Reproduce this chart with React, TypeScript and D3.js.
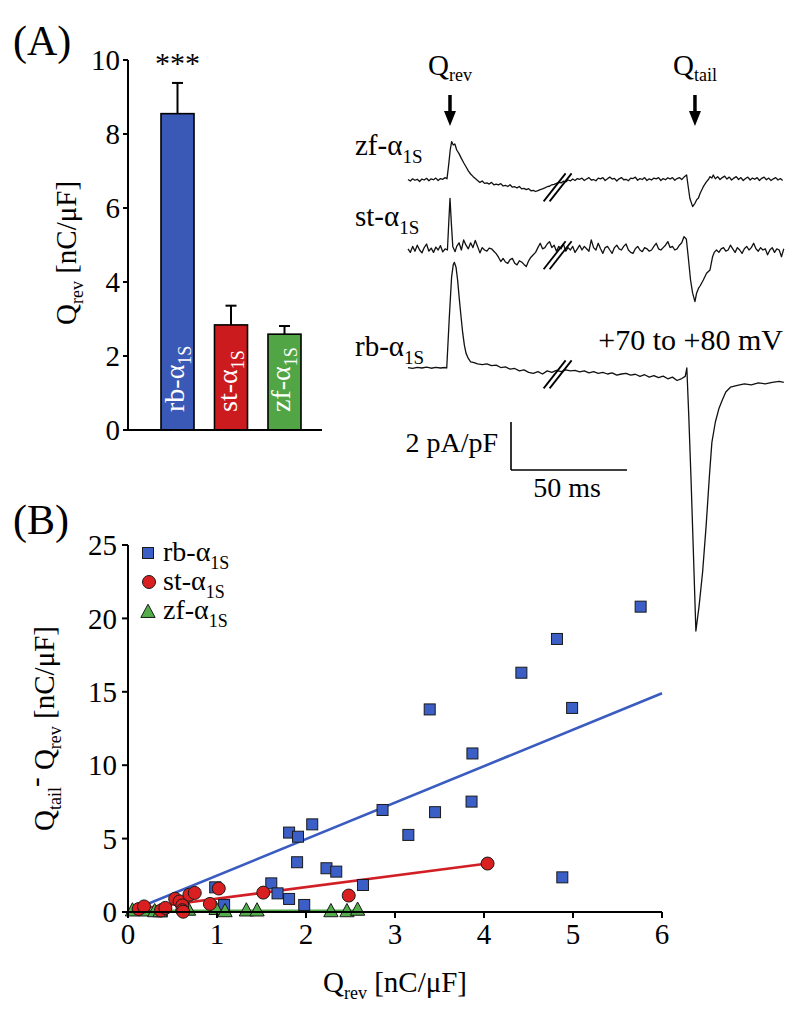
import React from 'react';
import * as d3 from 'd3';

// ---------- Panel A: bar chart ----------
const barGroups = ['rb', 'st', 'zf'];
const barMeans = [8.55, 2.84, 2.59];
const barErrors = [0.83, 0.52, 0.22];
const barColors = ['#3a58b5', '#cc1b1f', '#52a545'];
const barYTicks = [0, 2, 4, 6, 8, 10];

// ---------- Panel B: scatter ----------
const rbPoints: [number, number][] = [
  [0.38, 0.05], [0.98, 1.68], [1.08, 0.48], [1.61, 1.95], [1.68, 1.27], [1.81, 0.89],
  [1.81, 5.41], [1.91, 5.13], [1.9, 3.39], [1.98, 0.48], [2.07, 5.97], [2.23, 2.98],
  [2.34, 2.75], [2.64, 1.84], [2.86, 6.95], [3.15, 5.25], [3.39, 13.8], [3.45, 6.8],
  [3.86, 7.52], [3.87, 10.8], [4.42, 16.3], [4.82, 18.6], [4.88, 2.36], [4.99, 13.9],
  [5.76, 20.8],
];
const stPoints: [number, number][] = [
  [0.12, 0.2], [0.18, 0.38], [0.37, 0.1], [0.42, 0.28], [0.53, 0.9], [0.58, 0.72],
  [0.61, 0.45], [0.61, 0.12], [0.62, 0.02], [0.69, 1.18], [0.75, 1.3], [0.92, 0.55],
  [1.02, 1.6], [1.52, 1.32], [2.48, 1.12], [4.04, 3.3],
];
const zfPoints: [number, number][] = [
  [0.05, 0.1], [0.2, 0.1], [0.3, 0.05], [0.36, 0.05], [0.68, 0.15], [0.99, 0.2],
  [1.09, 0.05], [1.33, 0.1], [1.45, 0.1], [2.28, 0.05], [2.46, 0.05], [2.58, 0.15],
];
const rbFit: [number, number][] = [[0, 0], [6, 14.9]];
const stFit: [number, number][] = [[0.12, 0.22], [4.04, 3.3]];
const zfFit: [number, number][] = [[0.03, 0.05], [2.6, 0.05]];
const scatterXTicks = [0, 1, 2, 3, 4, 5, 6];
const scatterYTicks = [0, 5, 10, 15, 20, 25];

// ---------- Current traces: [time ms, current pA/pF] ----------
const zfTrace: [number, number][] = [
  [0, 0.02], [1, -0.04], [2, 0.05], [3, -0.01], [4, 0.03], [5, -0.06], [6, 0.04], [7, 0.0], [8, 0.07], [9, -0.03],
  [10, 0.05], [11, 0.01], [12, 0.08], [13, -0.02], [14, 0.06], [15, 0.03], [16, 0.1], [16.8, 0.05], [17.5, 0.6],
  [18.2, 1.25], [18.8, 1.6], [19.5, 1.46], [20.2, 1.5], [21, 1.25], [22, 1.1], [23, 0.9], [24, 0.72], [25, 0.55],
  [26, 0.38], [27, 0.25], [28, 0.15], [29, 0.06], [30, -0.02], [31, -0.1], [32, -0.04], [33, -0.14], [34, -0.12],
  [35, -0.17], [36, -0.1], [37, -0.2], [38, -0.17], [39, -0.2], [40, -0.15], [41, -0.25], [42, -0.22], [43, -0.27],
  [44, -0.2], [45, -0.3], [46, -0.28], [47, -0.33], [48, -0.27], [49, -0.37], [50, -0.35], [51, -0.4], [52, -0.36],
  [53, -0.45], [54, -0.43], [55, -0.48], [56, -0.44], [57, -0.4], [58, -0.37], [59, -0.33], [60, -0.28], [61, -0.26],
  [62, -0.2], [63, -0.18], [64, -0.14], [65, -0.1], [66, -0.12], [67, -0.05], [68, -0.08], [69, 0.0], [70, -0.04],
  [71, 0.04], [72, -0.02], [73, 0.06], [74, 0.03], [75, 0.08], [76, -0.02], [77, 0.04], [78, 0.1], [79, 0.0], [80, 0.02],
  [81, -0.03], [82, 0.08], [83, 0.05], [84, 0.1], [85, -0.02], [86, 0.05], [87, 0.12], [88, 0.04], [89, 0.07], [90, -0.04],
  [91, 0.05], [92, 0.1], [93, 0.01], [94, 0.03], [95, -0.03], [96, 0.08], [97, 0.06], [98, 0.12], [99, -0.01], [100, 0.06],
  [101, 0.02], [102, 0.1], [103, -0.02], [104, 0.05], [105, 0.0], [106, 0.08], [107, 0.05], [108, 0.1], [109, -0.02],
  [110, 0.06], [111, 0.01], [112, 0.09], [113, 0.04], [114, 0.1], [115, -0.01], [116, 0.06], [117, 0.1], [118, 0.02],
  [119, 0.12], [120.1, 0.21], [120.8, -0.28], [121.5, -0.76], [122.7, -1.11], [123.7, -0.97], [124.4, -0.83],
  [125.2, -0.75], [125.9, -0.56], [127.3, -0.28], [128.7, -0.07], [129.5, 0.02], [130.2, 0.14], [131, 0.08],
  [131.6, 0.21], [132.5, 0.05], [133.5, 0.14], [134.5, 0.02], [135.5, 0.1], [136.5, 0.16], [137.5, 0.04], [138.5, 0.12],
  [139.5, 0.0], [140.5, 0.08], [141.5, 0.14], [142.5, 0.02], [143.5, 0.1], [144.5, -0.02], [145.5, 0.06], [146.5, 0.12],
  [147.5, 0.0], [148.5, 0.08], [149.5, 0.03], [150.5, 0.1], [151.5, -0.02], [152.5, 0.07], [153.5, 0.12], [154.5, 0.01],
  [155.5, 0.08], [156.5, -0.02], [157.5, 0.05], [158.5, 0.1], [159.5, 0.0], [160.5, 0.06], [161.5, -0.02],
];
const stTrace: [number, number][] = [
  [0, 0.05], [1, -0.1], [2, 0.15], [3, -0.05], [4, 0.2], [5, 0.0], [6, -0.12], [7, 0.1], [8, 0.25], [9, -0.05],
  [10, 0.08], [11, -0.1], [12, 0.12], [13, 0.0], [14, 0.18], [15, -0.08], [16, 0.05], [17, 0.0], [17.6, 1.2],
  [18.1, 2.15], [18.7, 1.1], [19.3, 0.15], [20.3, -0.07], [21, 0.15], [22, 0.3], [23, 0.0], [24, 0.42], [25, 0.2],
  [26, 0.05], [27, 0.3], [28, 0.1], [29, 0.4], [30, 0.15], [31, -0.12], [32, 0.1], [33, 0.0], [34, -0.05], [35, 0.08],
  [36, 0.05], [37, -0.05], [38, -0.15], [39, -0.3], [40, -0.48], [41, -0.35], [42, -0.5], [43, -0.56], [44, -0.4],
  [45, -0.35], [46, -0.55], [47, -0.62], [48, -0.45], [49, -0.5], [50, -0.6], [51, -0.69], [52, -0.45], [53, -0.3],
  [54, -0.2], [55, -0.1], [56, 0.1], [57, 0.28], [58, 0.05], [59, 0.1], [60, 0.25], [61, 0.35], [62, 0.1], [63, 0.2],
  [64, -0.05], [65, 0.15], [66, 0.05], [67, 0.25], [68, -0.05], [69, 0.1], [70, 0.0], [71, 0.15], [72, -0.1], [73, 0.05],
  [74, 0.2], [75, 0.0], [76, 0.15], [77, 0.05], [78, -0.05], [79, 0.42], [80, 0.1], [81, 0.0], [82, 0.28], [83, 0.05],
  [84, -0.14], [85, 0.1], [86, 0.15], [87, 0.0], [88, -0.14], [89, 0.1], [90, 0.2], [91, 0.05], [92, 0.0], [93, 0.15],
  [94, 0.25], [95, 0.0], [96, -0.1], [97, -0.14], [98, 0.05], [99, 0.15], [100, 0.0], [101, -0.07], [102, 0.1],
  [103, 0.05], [104, -0.05], [105, 0.0], [106, 0.15], [107, 0.28], [108, 0.05], [109, 0.0], [110, 0.1], [111, 0.2],
  [112, 0.35], [113, 0.1], [114, 0.15], [115, 0.0], [116, 0.05], [117, 0.2], [118, 0.3], [119, 0.56], [120, 0.45],
  [120.8, -0.28], [121.8, -1.25], [122.7, -1.8], [123.7, -2.15], [124.4, -1.8], [125.2, -1.6], [125.9, -1.5],
  [127.3, -1.25], [128.7, -0.97], [130.2, -0.83], [131.3, -0.28], [132, -0.1], [133, 0.0], [134, -0.1], [135, 0.05],
  [136, 0.1], [137, -0.05], [138, 0.0], [139, 0.2], [140, 0.05], [141, -0.1], [142, 0.1], [143, 0.0], [144, -0.14],
  [145, 0.05], [146, 0.15], [147, 0.0], [148, 0.1], [149, 0.28], [150, 0.05], [151, -0.05], [152, 0.1], [153, 0.0],
  [154, 0.05], [155, -0.2], [156, 0.0], [157, 0.1], [158, -0.1], [159, 0.05], [160, 0.0], [161, -0.28], [162, 0.05],
];
const rbTrace: [number, number][] = [
  [0, 0.02], [2, -0.02], [4, 0.03], [6, 0.0], [8, 0.04], [10, -0.01], [12, 0.03], [14, 0.0], [16, 0.02], [16.7, 0.0],
  [17.8, 2.1], [18.8, 3.8], [19.5, 4.3], [20, 4.4], [20.7, 4.2], [21.4, 3.65], [22, 3.0], [22.8, 2.2], [23.6, 1.45],
  [24.3, 0.95], [25, 0.62], [26, 0.4], [27, 0.26], [28.5, 0.22], [30, 0.17], [32, 0.14], [34, 0.17], [36, 0.1],
  [38, 0.12], [40, 0.02], [42, 0.05], [44, -0.05], [46, -0.02], [48, -0.12], [50, -0.08], [52, -0.18], [54, -0.22],
  [56, -0.15], [58, -0.25], [60, -0.12], [62, -0.18], [64, -0.1], [66, -0.15], [68, -0.08], [70, -0.12], [72, -0.1],
  [74, -0.16], [76, -0.12], [78, -0.2], [80, -0.15], [82, -0.22], [84, -0.18], [86, -0.25], [88, -0.2], [90, -0.3],
  [92, -0.25], [94, -0.22], [96, -0.3], [98, -0.26], [100, -0.35], [102, -0.28], [104, -0.38], [106, -0.32],
  [108, -0.4], [110, -0.34], [112, -0.45], [114, -0.38], [116, -0.52], [118, -0.44], [119.5, -0.35], [120.2, 0.0],
  [121, -1.9], [122, -4.6], [123, -7.6], [124.1, -10.96], [125.5, -9.9], [127, -8.5], [128.5, -6.6], [130, -4.4],
  [131, -3.1], [132.5, -2.25], [134, -1.7], [135.5, -1.33], [137, -1.0], [139, -0.8], [142, -0.72], [145, -0.66],
  [148, -0.7], [151, -0.62], [154, -0.66], [157, -0.6], [160, -0.56], [162, -0.6],
];

const SERIF = '"Liberation Serif", "Times New Roman", serif';

export default function App() {
  // Panel A scales
  const yA = d3.scaleLinear().domain([0, 10]).range([430, 60]);
  const xA = d3.scaleBand<string>().domain(barGroups).range([161, 301]).paddingInner(0.383).paddingOuter(0);

  // Panel B scales
  const xB = d3.scaleLinear().domain([0, 6]).range([128, 662]);
  const yB = d3.scaleLinear().domain([0, 25]).range([912, 545]);
  const fitLine = d3.line<[number, number]>().x((d) => xB(d[0])).y((d) => yB(d[1]));

  // Trace scales
  const xT = d3.scaleLinear().domain([0, 162]).range([408, 783.8]);
  const yT = d3.scaleLinear().domain([-1, 1]).range([24, -24]);
  const traceLine = d3.line<[number, number]>().x((d) => xT(d[0])).y((d) => yT(d[1]));
  const traces = [
    { data: zfTrace, base: 180 },
    { data: stTrace, base: 250 },
    { data: rbTrace, base: 368 },
  ];
  const breakT = 64.5;

  const sq = 11;
  const tri = (x: number, y: number, s: number) =>
    `M${x},${y - s * 0.6} L${x + s * 0.55},${y + s * 0.42} L${x - s * 0.55},${y + s * 0.42} Z`;

  const barLabelNames = ['rb-α', 'st-α', 'zf-α'];

  return (
    <svg
      width={800}
      height={1009}
      style={{ position: 'absolute', left: 0, top: 0, background: '#fff' }}
      fontFamily={SERIF}
    >
      <rect x={0} y={0} width={800} height={1009} fill="#fff" />
      {/* Panel labels */}
      <text x={13} y={55} fontSize={42}>(A)</text>
      <text x={13} y={534} fontSize={42}>(B)</text>

      {/* ---------- Panel A ---------- */}
      <g>
        {barGroups.map((g, i) => {
          const x = xA(g)!;
          const w = xA.bandwidth();
          const cx = x + w / 2;
          return (
            <g key={g}>
              <line x1={cx} x2={cx} y1={yA(barMeans[i])} y2={yA(barMeans[i] + barErrors[i])} stroke="#000" strokeWidth={2} />
              <line x1={cx - 5.5} x2={cx + 5.5} y1={yA(barMeans[i] + barErrors[i])} y2={yA(barMeans[i] + barErrors[i])} stroke="#000" strokeWidth={2} />
              <rect x={x} y={yA(barMeans[i])} width={w} height={yA(0) - yA(barMeans[i])} fill={barColors[i]} stroke="#000" strokeWidth={1.6} />
              <text transform={`translate(${cx + 6},412) rotate(-90)`} fill="#fff" fontSize={28}>
                {barLabelNames[i]}
                <tspan fontSize={18} dy={7}>1S</tspan>
              </text>
            </g>
          );
        })}
        <text x={xA('rb')! + xA.bandwidth() / 2} y={yA(10) + 13} fontSize={30} textAnchor="middle">***</text>
        <line x1={128} x2={128} y1={yA(10)} y2={yA(0)} stroke="#000" strokeWidth={2} />
        <line x1={123} x2={322} y1={yA(0)} y2={yA(0)} stroke="#000" strokeWidth={2} />
        {barYTicks.map((t) => (
          <g key={t}>
            <line x1={123} x2={128} y1={yA(t)} y2={yA(t)} stroke="#000" strokeWidth={2} />
            <text x={120} y={yA(t)} dy="0.35em" fontSize={29} textAnchor="end">{t}</text>
          </g>
        ))}
        <text transform={`translate(76,${(yA(0) + yA(10)) / 2 + 8}) rotate(-90)`} fontSize={29} textAnchor="middle">
          Q<tspan fontSize={18} dy={7}>rev</tspan>
          <tspan dy={-7}> [nC/μF]</tspan>
        </text>
      </g>

      {/* ---------- Traces ---------- */}
      <g>
        {traces.map((tr, i) => (
          <g key={i} transform={`translate(0,${tr.base})`}>
            <path d={traceLine(tr.data) || ''} fill="none" stroke="#111" strokeWidth={1.3} strokeLinejoin="round" />
          </g>
        ))}
        {traces.map((tr, i) => {
          const cx = xT(breakT);
          const v = tr.data.reduce((a, b) => (Math.abs(b[0] - breakT) < Math.abs(a[0] - breakT) ? b : a))[1];
          const cy = tr.base + yT(v) + 4;
          return (
            <g key={'b' + i}>
              {[-3, 3].map((o) => (
                <line key={o} x1={cx + o - 11} y1={cy + 14} x2={cx + o + 11} y2={cy - 14} stroke="#000" strokeWidth={1.8} />
              ))}
            </g>
          );
        })}
        {/* trace labels */}
        <text x={355} y={155} fontSize={29}>zf-α<tspan fontSize={19} dy={8}>1S</tspan></text>
        <text x={355} y={226} fontSize={29}>st-α<tspan fontSize={19} dy={8}>1S</tspan></text>
        <text x={355} y={356} fontSize={29}>rb-α<tspan fontSize={19} dy={8}>1S</tspan></text>
        <text x={783} y={350} fontSize={30} textAnchor="end">+70 to +80 mV</text>
        {/* Q labels and arrows */}
        {[{ t: 18.1, sub: 'rev' }, { t: 123.7, sub: 'tail' }].map((q) => {
          const x = xT(q.t);
          return (
            <g key={q.sub}>
              <text x={x} y={75} fontSize={29} textAnchor="middle">
                Q<tspan fontSize={18} dy={6}>{q.sub}</tspan>
              </text>
              <line x1={x} x2={x} y1={95} y2={114} stroke="#000" strokeWidth={3.5} />
              <path d={`M${x - 6},${111} L${x + 6},${111} L${x},${126} Z`} fill="#000" />
            </g>
          );
        })}
        {/* scale bar */}
        <line x1={511} x2={511} y1={470 - (yT(0) - yT(2))} y2={470} stroke="#000" strokeWidth={1.6} />
        <line x1={511} x2={511 + (xT(50) - xT(0))} y1={470} y2={470} stroke="#000" strokeWidth={1.6} />
        <text x={498} y={452} fontSize={28} textAnchor="end">2 pA/pF</text>
        <text x={567} y={497} fontSize={28} textAnchor="middle">50 ms</text>
      </g>

      {/* ---------- Panel B ---------- */}
      <g>
        <path d={fitLine(zfFit) || ''} stroke="#4ea846" strokeWidth={3.5} fill="none" />
        <path d={fitLine(rbFit) || ''} stroke="#3a5cc0" strokeWidth={2.6} fill="none" />
        <path d={fitLine(stFit) || ''} stroke="#d21f26" strokeWidth={2.6} fill="none" />
        {rbPoints.map((p, i) => (
          <rect key={'r' + i} x={xB(p[0]) - sq / 2} y={yB(p[1]) - sq / 2} width={sq} height={sq} fill="#3b5fc6" stroke="#1a1a1a" strokeWidth={1} />
        ))}
        {zfPoints.map((p, i) => (
          <path key={'z' + i} d={tri(xB(p[0]), yB(p[1]), 13)} fill="#52ad4a" stroke="#1a1a1a" strokeWidth={1} />
        ))}
        {stPoints.map((p, i) => (
          <circle key={'s' + i} cx={xB(p[0])} cy={yB(p[1])} r={6.5} fill="#d91f1f" stroke="#1a1a1a" strokeWidth={1} />
        ))}
        {/* axes */}
        <line x1={128} x2={128} y1={yB(25)} y2={yB(0)} stroke="#000" strokeWidth={2} />
        <line x1={128} x2={662} y1={yB(0)} y2={yB(0)} stroke="#000" strokeWidth={2} />
        {scatterYTicks.map((t) => (
          <g key={t}>
            <line x1={122} x2={128} y1={yB(t)} y2={yB(t)} stroke="#000" strokeWidth={2} />
            <text x={117} y={yB(t)} dy="0.35em" fontSize={29} textAnchor="end">{t}</text>
          </g>
        ))}
        {scatterXTicks.map((t) => (
          <g key={t}>
            <line x1={xB(t)} x2={xB(t)} y1={yB(0)} y2={yB(0) + 6} stroke="#000" strokeWidth={2} />
            <text x={xB(t)} y={944} fontSize={29} textAnchor="middle">{t}</text>
          </g>
        ))}
        <text x={(xB(0) + xB(6)) / 2} y={992} fontSize={29} textAnchor="middle">
          Q<tspan fontSize={18} dy={7}>rev</tspan>
          <tspan dy={-7}> [nC/μF]</tspan>
        </text>
        <text transform={`translate(54,${(yB(0) + yB(25)) / 2}) rotate(-90)`} fontSize={29} textAnchor="middle">
          Q<tspan fontSize={18} dy={7}>tail</tspan>
          <tspan dy={-16}>-</tspan>
          <tspan dy={9}> Q</tspan>
          <tspan fontSize={18} dy={7}>rev</tspan>
          <tspan dy={-7}> [nC/μF]</tspan>
        </text>
        {/* legend */}
        <rect x={148 - sq / 2} y={553 - sq / 2} width={sq} height={sq} fill="#3b5fc6" stroke="#1a1a1a" strokeWidth={1} />
        <circle cx={149} cy={582} r={6.5} fill="#d91f1f" stroke="#1a1a1a" strokeWidth={1} />
        <path d={tri(148, 612, 13)} fill="#52ad4a" stroke="#1a1a1a" strokeWidth={1} />
        <text x={163} y={561} fontSize={28}>rb-α<tspan fontSize={18} dy={8}>1S</tspan></text>
        <text x={163} y={590} fontSize={28}>st-α<tspan fontSize={18} dy={8}>1S</tspan></text>
        <text x={163} y={619} fontSize={28}>zf-α<tspan fontSize={18} dy={8}>1S</tspan></text>
      </g>
    </svg>
  );
}
